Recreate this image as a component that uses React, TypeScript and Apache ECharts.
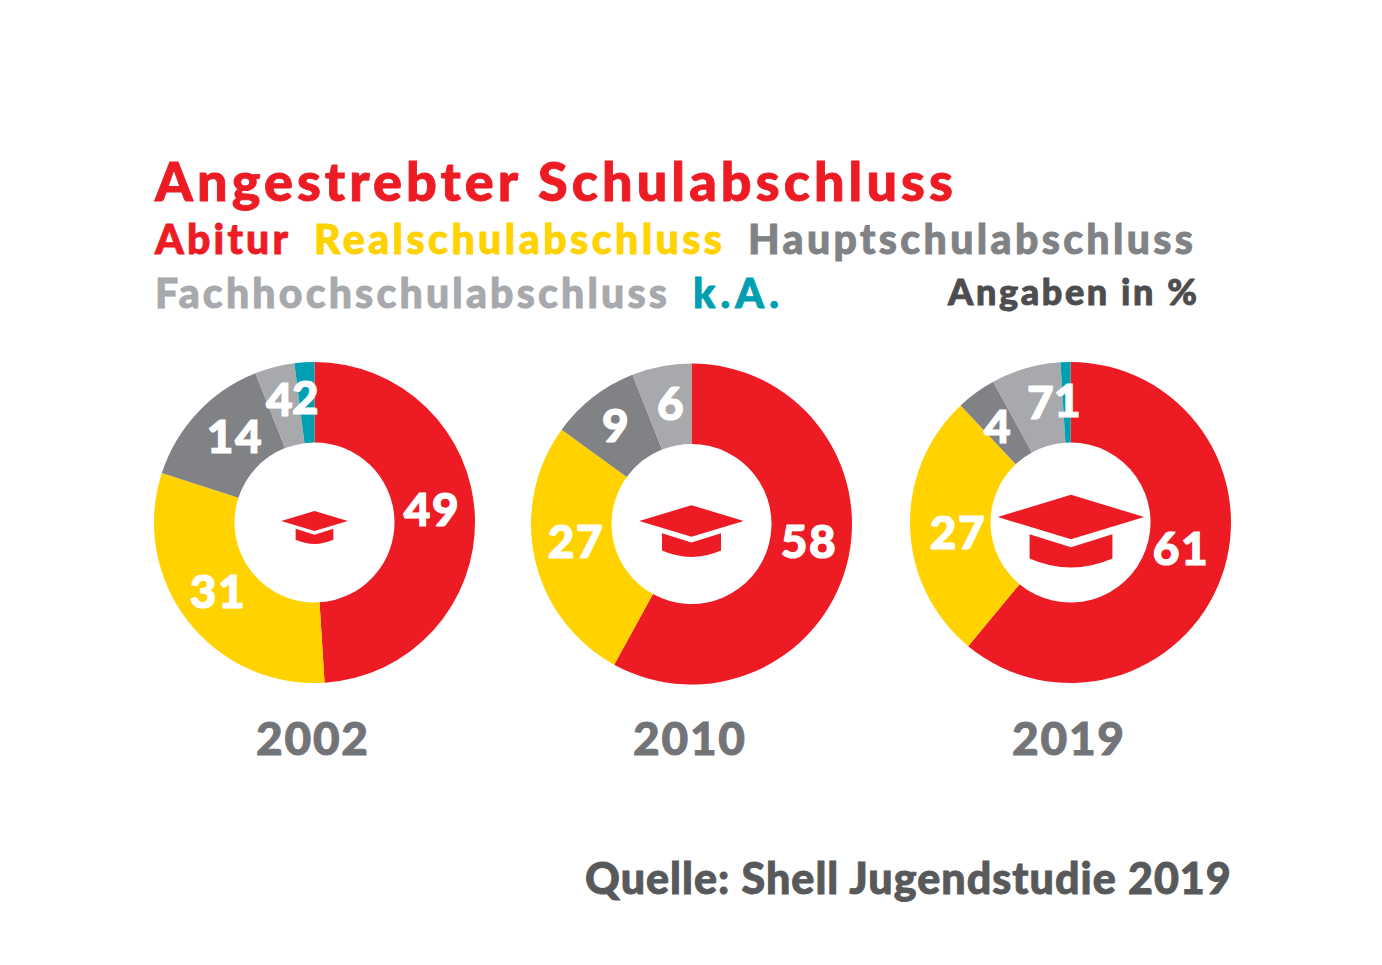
import React, { useEffect, useRef } from "react";
import * as echarts from "echarts";

const categories = ["Abitur", "Realschulabschluss", "Hauptschulabschluss", "Fachhochschulabschluss", "k.A."];
const years = ["2002", "2010", "2019"];
const values2002 = [49, 31, 14, 4, 2];
const values2010 = [58, 27, 9, 6, 0];
const values2019 = [61, 27, 4, 7, 1];
const allValues = [values2002, values2010, values2019];

const colors = ["#ED1C24", "#FFD200", "#808285", "#A7A9AC", "#009FB1"];
const FONT = "Lato";

const centers = [[314.5, 522.5], [691.5, 524], [1070.5, 522.5]];
const labelSpots = [
  [[432, 508], [218, 590], [235, 435], [280, 398], [306, 396]],
  [[809, 540], [576, 540], [616, 424], [671, 402], [0, 0]],
  [[1181, 547], [958, 531], [998, 425], [1041, 401], [1068, 399]],
];
const capPlacement = [
  { x: 314.5, y: 521, s: 0.46 },
  { x: 691.5, y: 521, s: 0.72 },
  { x: 1071, y: 517, s: 1.01 },
];

const texts = [
  { t: "Angestrebter Schulabschluss", x: 155, y: 180, w: 799, size: 54, fill: "#ED1C24" },
  { t: categories[0], x: 155, y: 238, w: 133, size: 41, fill: "#ED1C24" },
  { t: categories[1], x: 314, y: 238, w: 408, size: 41, fill: "#FFD200" },
  { t: categories[2], x: 748, y: 238, w: 445, size: 41, fill: "#808285" },
  { t: categories[3], x: 155, y: 292, w: 512, size: 41, fill: "#A7A9AC" },
  { t: categories[4], x: 693, y: 292, w: 86, size: 41, fill: "#009FB1" },
  { t: "Angaben in %", x: 948, y: 291, w: 249, size: 36, fill: "#4D4D4F" },
  { t: years[0], x: 256, y: 737, w: 112, size: 46, fill: "#737477" },
  { t: years[1], x: 633, y: 737, w: 112, size: 46, fill: "#737477" },
  { t: years[2], x: 1012, y: 737, w: 112, size: 46, fill: "#737477" },
  { t: "Quelle: Shell Jugendstudie 2019", x: 585, y: 877, w: 647, size: 43, fill: "#58595B" },
];

const CAP_PATH =
  "M-72.5 0 L0 -22 L72.5 0 L0 22 Z M-41 17 L0 30 L41 17 L41 41 Q0 59 -41 41 Z";
echarts.graphic.registerShape("gradCap", echarts.graphic.extendPath(CAP_PATH, {}));

function fitSpacing(text: string, size: number, target: number) {
  const ctx = document.createElement("canvas").getContext("2d")!;
  ctx.font = `900 ${size}px ${FONT}`;
  return (target - ctx.measureText(text).width) / (text.length - 1);
}

export default function App() {
  const ref = useRef<HTMLDivElement>(null);
  useEffect(() => {
    const chart = echarts.init(ref.current!, undefined, { renderer: "svg" });
    chart.setOption({
      animation: false,
      backgroundColor: "#fff",
      series: allValues.map((vals, i) => ({
        type: "pie",
        name: years[i],
        center: centers[i],
        radius: [80, 160.5],
        startAngle: 90,
        clockwise: true,
        silent: true,
        avoidLabelOverlap: false,
        labelLine: { show: false },
        label: {
          show: true,
          position: "inside",
          formatter: "{c}",
          color: "#fff",
          fontFamily: FONT,
          fontWeight: 900,
          fontSize: 46,
          textBorderColor: "#fff",
          textBorderWidth: 1.2,
        },
        labelLayout: (p: any) => ({
          x: labelSpots[i][p.dataIndex][0],
          y: labelSpots[i][p.dataIndex][1],
          align: "center",
          verticalAlign: "middle",
        }),
        data: categories
          .map((name, k) => ({
            name,
            value: vals[k],
            itemStyle: { color: colors[k] },
          }))
          .filter((d) => d.value > 0),
      })),
      graphic: [
        ...texts.map((o) => ({
          type: "text",
          x: o.x,
          y: o.y,
          z: 10,
          style: {
            text: o.t,
            fontFamily: FONT,
            fontWeight: 900,
            fontSize: o.size,
            fill: o.fill,
            stroke: o.fill,
            lineWidth: 0.9,
            align: "left",
            verticalAlign: "middle",
          },
        })),
        ...capPlacement.map((c) => ({
          type: "gradCap",
          x: c.x,
          y: c.y,
          scaleX: c.s,
          scaleY: c.s,
          z: 10,
          style: { fill: "#ED1C24" },
        })),
      ],
    });
    ref.current!.querySelectorAll("text").forEach((el) => {
      const item = texts.find((o) => o.t === el.textContent);
      if (item) {
        el.style.letterSpacing = `${fitSpacing(item.t, item.size, item.w)}px`;
      } else {
        el.style.letterSpacing = "1.5px";
      }
    });
    return () => chart.dispose();
  }, []);
  return (
    <div
      ref={ref}
      style={{ position: "absolute", left: 0, top: 0, width: 1382, height: 965 }}
    />
  );
}
